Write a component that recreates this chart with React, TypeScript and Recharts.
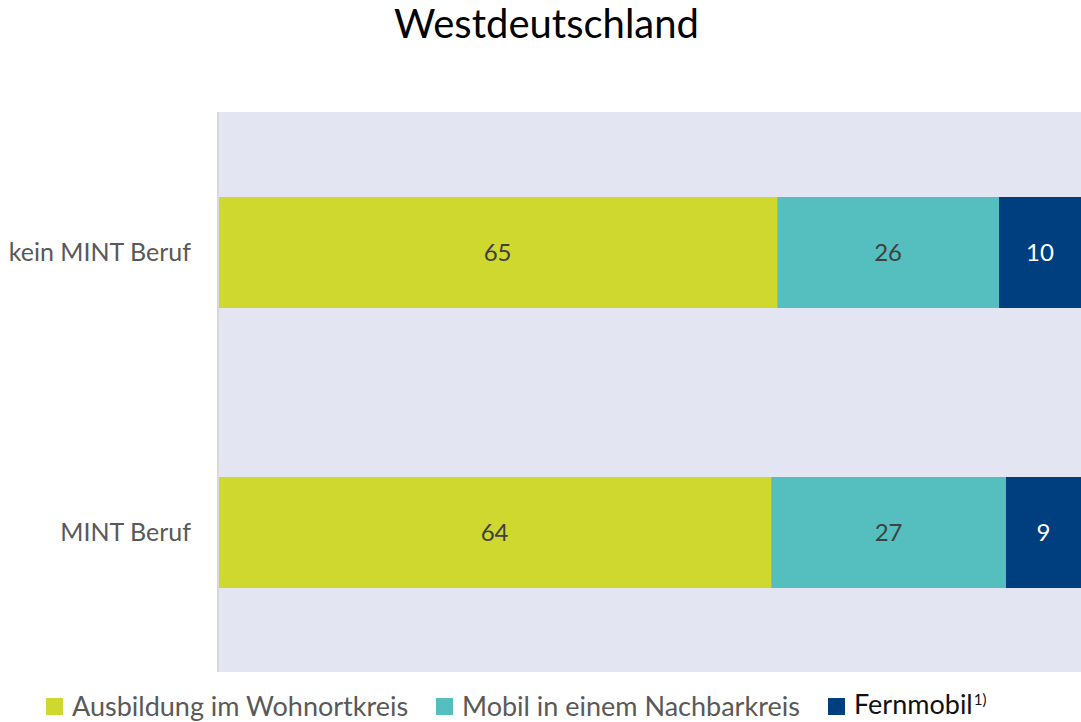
import { Bar, BarChart, CartesianGrid, LabelList, XAxis, YAxis } from "recharts";

const categories = ["kein MINT Beruf", "MINT Beruf"];
const wohnort = [64.8, 64.1];
const nachbar = [25.7, 27.2];
const fern = [9.5, 8.7];

const seriesNames = ["Ausbildung im Wohnortkreis", "Mobil in einem Nachbarkreis", "Fernmobil"];
const seriesColors = ["#cfd82e", "#55bfc0", "#003f7f"];
const legendLeft = [46, 436, 828];

const FONT = "Lato, 'Open Sans', sans-serif";

const chartData = categories.map((c, i) => ({
  name: c,
  wohnort: wohnort[i],
  nachbar: nachbar[i],
  fern: fern[i],
}));

function LegendBox() {
  return (
    <>
      {seriesNames.map((n, i) => (
        <div
          key={n}
          style={{ position: "absolute", left: legendLeft[i], top: 692, height: 28, display: "flex", alignItems: "center", fontFamily: FONT, fontSize: 27, lineHeight: "28px", whiteSpace: "nowrap" }}
        >
          <span style={{ width: 17, height: 17, background: seriesColors[i], display: "inline-block", marginRight: 9 }} />
          <span style={{ color: i === 2 ? "#111" : "#595959" }}>
            {n}
            {i === 2 && <span style={{ fontSize: 15, position: "relative", top: -9, marginLeft: 1 }}>1)</span>}
          </span>
        </div>
      ))}
    </>
  );
}

export default function App() {
  const fmt = (v: any) => Math.round(Number(v));
  return (
    <div style={{ position: "absolute", left: 0, top: 0, width: 1081, height: 722, background: "#fff", overflow: "hidden" }}>
      <div style={{ position: "absolute", top: 3, left: 0, width: 1081, textAlign: "center", fontFamily: FONT, fontSize: 40, lineHeight: "40px", color: "#000", paddingLeft: 12, boxSizing: "border-box" }}>
        Westdeutschland
      </div>
      <BarChart
        width={1081}
        height={722}
        data={chartData}
        layout="vertical"
        margin={{ top: 112, right: 0, left: 0, bottom: 50 }}
        barSize={111}
        style={{ fontFamily: FONT }}
      >
        <CartesianGrid horizontal={false} vertical={false} fill="#e3e6f2" />
        <XAxis type="number" domain={[0, 100]} hide />
        <YAxis
          type="category"
          dataKey="name"
          width={218}
          tickLine={false}
          axisLine={{ stroke: "#d9d9d9", strokeWidth: 2 }}
          tickMargin={21}
          tick={{ fill: "#595959", fontSize: 25 }}
        />
        <Bar dataKey="wohnort" stackId="a" fill={seriesColors[0]} isAnimationActive={false}>
          <LabelList dataKey="wohnort" position="center" formatter={fmt} fill="#404040" fontSize={24} />
        </Bar>
        <Bar dataKey="nachbar" stackId="a" fill={seriesColors[1]} isAnimationActive={false}>
          <LabelList dataKey="nachbar" position="center" formatter={fmt} fill="#404040" fontSize={24} />
        </Bar>
        <Bar dataKey="fern" stackId="a" fill={seriesColors[2]} isAnimationActive={false}>
          <LabelList dataKey="fern" position="center" formatter={fmt} fill="#ffffff" fontSize={24} />
        </Bar>
      </BarChart>
      <LegendBox />
    </div>
  );
}
